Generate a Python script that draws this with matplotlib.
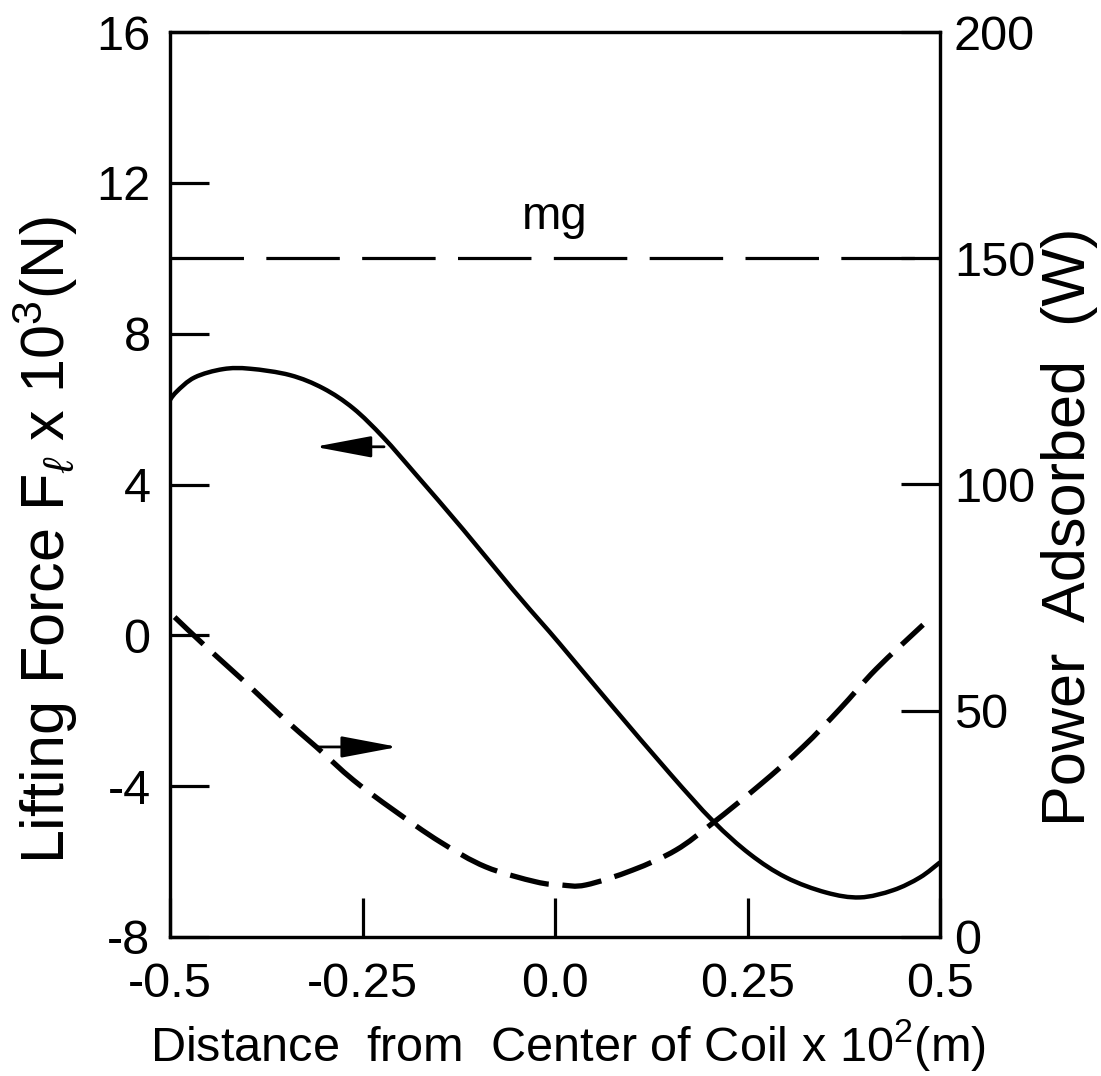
import matplotlib
matplotlib.use("Agg")
import matplotlib.pyplot as plt
from matplotlib.path import Path
from matplotlib.patches import PathPatch

plt.rcParams['font.family'] = ['Liberation Sans', 'DejaVu Sans']
plt.rcParams['mathtext.fontset'] = 'custom'
plt.rcParams['mathtext.rm'] = 'Liberation Sans'
plt.rcParams['mathtext.it'] = 'Liberation Sans:italic'
plt.rcParams['axes.unicode_minus'] = False

# ---- data ----
x_force = [-0.503, -0.492, -0.468, -0.431, -0.396, -0.344, -0.301, -0.262, -0.223,
           -0.180, -0.119, -0.055, -0.016, 0.006, 0.071, 0.149, 0.205, 0.253,
           0.300, 0.352, 0.396, 0.439, 0.474, 0.5]
force = [6.15, 6.45, 6.84, 7.06, 7.07, 6.90, 6.55, 6.02, 5.25,
         4.25, 2.80, 1.22, 0.30, -0.22, -1.80, -3.66, -4.92, -5.80,
         -6.42, -6.82, -6.95, -6.76, -6.42, -6.02]

x_power = [-0.494, -0.453, -0.401, -0.353, -0.310, -0.262, -0.210, -0.149, -0.090,
           -0.025, 0.008, 0.040, 0.101, 0.157, 0.205, 0.266, 0.322, 0.370,
           0.417, 0.478]
power = [70.7, 64.1, 56.1, 48.4, 42.0, 34.7, 28.1, 21.0, 15.5,
         12.2, 11.5, 11.5, 14.8, 19.2, 25.2, 33.6, 42.0, 50.4,
         59.2, 69.0]

mg_value = 10.0

x_ticks = [-0.5, -0.25, 0.0, 0.25, 0.5]
x_ticklabels = ["-0.5", "-0.25", "0.0", "0.25", "0.5"]
left_ticks = [-8, -4, 0, 4, 8, 12, 16]
right_ticks = [0, 50, 100, 150, 200]


def smooth_path(xs, ys):
    """Cubic Bezier path passing through the given points (Catmull-Rom)."""
    pts = list(zip(xs, ys))
    n = len(pts)
    verts = [pts[0]]
    codes = [Path.MOVETO]
    for i in range(n - 1):
        p0 = pts[i - 1] if i > 0 else pts[i]
        p1 = pts[i]
        p2 = pts[i + 1]
        p3 = pts[i + 2] if i + 2 < n else pts[i + 1]
        c1 = (p1[0] + (p2[0] - p0[0]) / 6, p1[1] + (p2[1] - p0[1]) / 6)
        c2 = (p2[0] - (p3[0] - p1[0]) / 6, p2[1] - (p3[1] - p1[1]) / 6)
        verts += [c1, c2, p2]
        codes += [Path.CURVE4] * 3
    return Path(verts, codes)


# ---- figure ----
fig = plt.figure(figsize=(11.01, 10.76), dpi=100)
ax = fig.add_axes([170/1101, 1 - 937/1076, (940-170)/1101, (937-32)/1076])
ax2 = ax.twinx()

ax.set_xlim(-0.5, 0.5)
ax.set_ylim(-8, 16)
ax2.set_ylim(0, 200)

lw_sp = 2.3
for a in (ax, ax2):
    for s in a.spines.values():
        s.set_linewidth(lw_sp)

force_patch = PathPatch(smooth_path(x_force, force), fill=False, edgecolor='black',
                        lw=3.2, capstyle='butt', joinstyle='round')
ax.add_patch(force_patch)
power_patch = PathPatch(smooth_path(x_power, power), fill=False, edgecolor='black',
                        lw=3.8, linestyle=(0, (7.5, 2.6)), capstyle='butt')
ax2.add_patch(power_patch)
ax.axhline(mg_value, color='black', lw=2.3, dashes=(23, 7), dash_capstyle='butt')

ax.text(0.0, 11.1, "mg", ha='center', va='center', fontsize=34)

arrow_style = "-|>,head_length=1.75,head_width=0.33"
ax.annotate("", xy=(-0.312, 5.0), xytext=(-0.222, 5.0),
            arrowprops=dict(arrowstyle=arrow_style, mutation_scale=20,
                            color='black', lw=2, shrinkA=0, shrinkB=0))
ax2.annotate("", xy=(-0.204, 42.0), xytext=(-0.310, 42.0),
             arrowprops=dict(arrowstyle=arrow_style, mutation_scale=20,
                             color='black', lw=2, shrinkA=0, shrinkB=0))

ax.set_xticks(x_ticks)
ax.set_xticklabels(x_ticklabels)
ax.set_yticks(left_ticks)
ax2.set_yticks(right_ticks)

ax.tick_params(axis='both', direction='in', length=28, width=2.3, labelsize=35)
ax.tick_params(axis='x', pad=18)
ax.tick_params(axis='y', pad=14)
ax2.tick_params(axis='y', direction='in', length=28, width=2.3, labelsize=35, pad=10)

fig.text(568/1101, 1 - 1045/1076, "Distance  from  Center of Coil x 10$^2$(m)",
         ha='center', va='center', fontsize=35)
fig.text(45/1101, 1 - 540/1076, "Lifting Force F$_\\ell$ x 10$^3$(N)",
         ha='center', va='center', rotation=90, fontsize=44)
fig.text(1070/1101, 1 - 527/1076, "Power  Adsorbed  (W)",
         ha='center', va='center', rotation=90, fontsize=44)

fig.savefig("out.png", dpi=100)
